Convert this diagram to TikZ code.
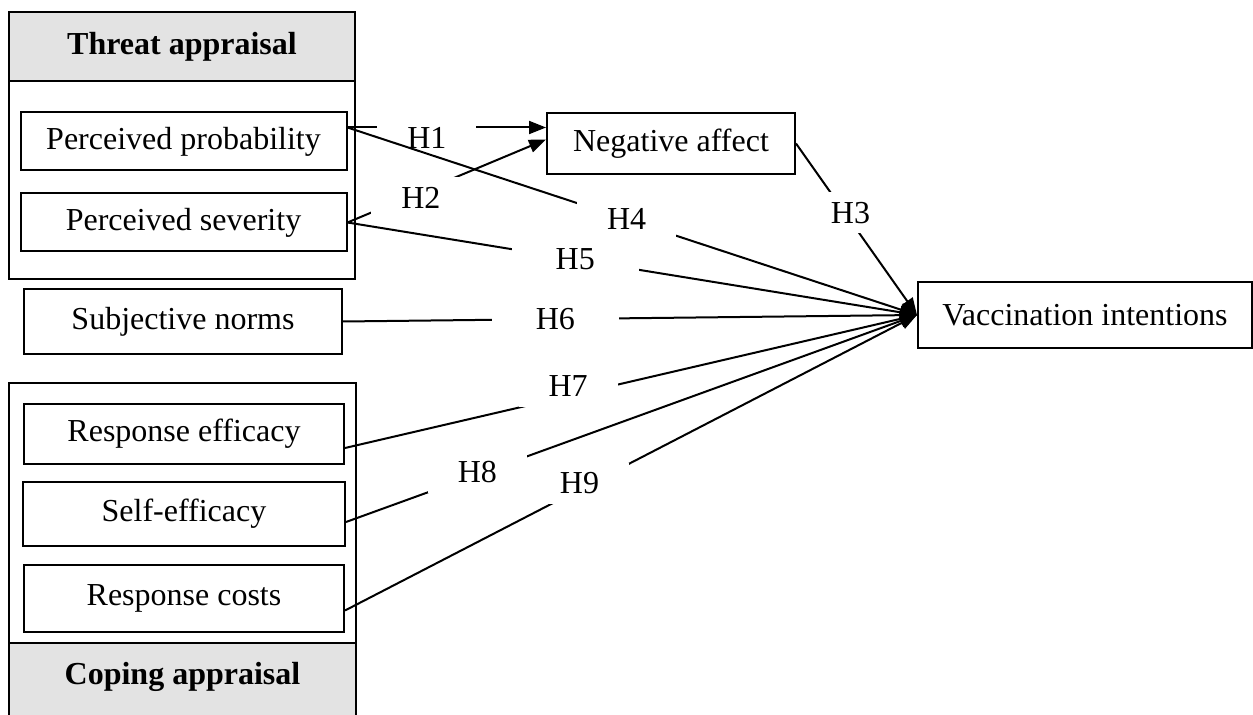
\documentclass[tikz,border=0pt]{standalone}
\usepackage{fontspec}
\setmainfont{Liberation Serif}
\usetikzlibrary{arrows.meta, positioning}

\begin{document}
\begin{tikzpicture}[x=0.5pt, y=-0.5pt, line width=1pt,
    font=\fontsize{16}{19}\selectfont,
    var/.style={draw, minimum height=29pt, align=center, inner sep=2pt},
    hdr/.style={minimum width=173pt, minimum height=34.5pt, font=\fontsize{16}{19}\selectfont\bfseries},
    hyp/.style={fill=white, inner xsep=15pt, inner ysep=5pt},
    arr/.style={-{Triangle[length=8.5pt, width=6.5pt]}}]
    \useasboundingbox (0,0) rectangle (1253,715);
    % threat appraisal
    \node[draw, minimum width=173pt, minimum height=133.5pt] (thr) at (182,145.5) {};
    \node[hdr, draw, fill=black!11, anchor=north] (thrhd) at (thr.north) {Threat appraisal};
    \node[var, minimum width=163pt] (pp) at (183.5,141.5) {Perceived probability};
    \node[var, minimum width=163pt, below=10.5pt of pp] (ps) {Perceived severity};
    \node[var, minimum width=159pt, minimum height=32.5pt] (sn) at (183,321.5) {Subjective norms};
    % coping appraisal
    \fill[black!11] (9,643) rectangle (356,715);
    \draw (9,715) |- (356,383) -- (356,715);
    \draw (9,643) -- (356,643);
    \node[hdr] (cophd) at (182.5,677) {Coping appraisal};
    \node[var, minimum width=160pt, minimum height=30pt] (re) at (184,434) {Response efficacy};
    \node[var, minimum width=161pt, minimum height=32pt, below=8pt of re] (se) {Self-efficacy};
    \node[var, minimum width=160pt, minimum height=33.5pt, below=8.5pt of se] (rc) {Response costs};
    % outcomes
    \node[var, minimum width=124pt, minimum height=30.5pt] (na) at (671,143.5) {Negative affect};
    \node[var, minimum width=167pt, minimum height=33pt] (vi) at (1085,315) {Vaccination intentions};
    % hypotheses
    \coordinate (h1s) at ([yshift=7pt]pp.east);
    \draw[arr] (h1s) -- (h1s -| na.west) node[hyp, pos=.4, yshift=-5pt] (h1) {H1};
    \draw[arr] (ps.east) -- ([yshift=2pt]na.west) node[hyp, pos=.37, yshift=-3pt] (h2) {H2};
    \draw[arr] (na.east) -- (vi.west) node[hyp, pos=.45, inner xsep=6pt, yshift=4pt] (h3) {H3};
    \draw[arr] (h1s) -- (vi.west) node[hyp, pos=.49] (h4) {H4};
    \draw[arr] (ps.east) -- (vi.west) node[hyp, pos=.4, inner xsep=22pt] (h5) {H5};
    \draw[arr] (sn.east) -- (vi.west) node[hyp, pos=.37, inner xsep=22pt] (h6) {H6};
    \draw[arr] ([yshift=-7pt]re.east) -- (vi.west) node[hyp, pos=.39, yshift=5pt] (h7) {H7};
    \draw[arr] ([yshift=-4pt]se.east) -- (vi.west) node[hyp, pos=.23, yshift=1pt] (h8) {H8};
    \draw[arr] ([yshift=-6pt]rc.east) -- (vi.west) node[hyp, pos=.41, yshift=3pt] (h9) {H9};
\end{tikzpicture}
\end{document}
